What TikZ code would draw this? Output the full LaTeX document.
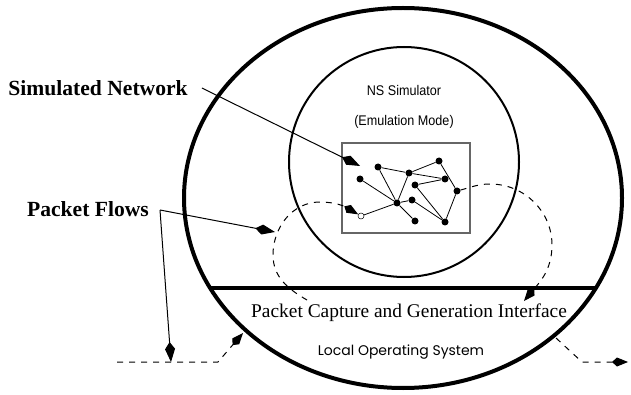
\documentclass[tikz,border=0pt]{standalone}
\usepackage{fontspec}
\setmainfont{Liberation Serif}
\newfontfamily\narrowsans[FakeStretch=0.9]{Liberation Sans}
\newfontfamily\gothicsans{Poppins}
\usetikzlibrary{arrows.meta}

\begin{document}
\begin{tikzpicture}[x=1pt,y=-1pt]
\useasboundingbox (0,0) rectangle (631,395);

\tikzstyle{dot}=[circle,fill=black,minimum size=7pt,inner sep=0pt]
\tikzstyle{hollow}=[circle,draw,fill=white,line width=0.5pt,minimum size=6pt,inner sep=0pt]
\tikzstyle{biglabel}=[font=\bfseries\fontsize{21.6}{24}\selectfont,inner sep=0pt]
\tikzstyle{pointer}=[line width=1pt,-{Kite[length=20pt,width=10pt,inset=7pt]}]
\tikzstyle{flow}=[line width=1pt,dash pattern=on 6pt off 6pt,-{Kite[length=16pt,width=9pt,inset=5pt]}]

%Local Operating System - outer ellipse
\draw[line width=4pt] (403,198) ellipse [x radius=219pt, y radius=190pt];
%Capture interface bar
\draw[line width=4pt] (211,288) -- (597,288);
%NS Simulator circle
\draw[line width=2pt] (404,162) circle [radius=115pt];
%Network box
\draw[black!60,line width=1.2pt] (342,143) rectangle (470,233);

%Texts
\node[font=\narrowsans\fontsize{14}{16}\selectfont] (ns) at (404,90) {NS Simulator};
\node[font=\narrowsans\fontsize{14}{16}\selectfont] (mode) at (404,122) {(Emulation Mode)};
\node[font=\fontsize{19.4}{22}\selectfont] (pcgi) at (409,313) {Packet Capture and Generation Interface};
\node[font=\gothicsans\fontsize{14}{16}\selectfont] (los) at (401,352) {Local Operating System};
\node[biglabel] (simnet) at (98,88) {Simulated Network};
\node[biglabel] (pflows) at (88,209) {Packet Flows};

%Network nodes
\foreach \id/\x/\y in {1/378/167, 2/409/173, 3/439/161, 4/360/179, 5/445/179, 6/415/185,
                       7/457/191, 8/397/203, 9/412/200, 10/415/221, 11/445/222}
\node[dot] (n\id) at (\x,\y) {};
\node[hollow] (src) at (361,216) {};

%Links
\foreach \from/\to in {1/2, 2/3, 2/5, 3/7, 6/5, 4/8, 1/8, 2/8, 8/9, 9/11, 6/11, 7/11, 8/10}
\draw[line width=0.8pt] (n\from) -- (n\to);
\draw[line width=0.8pt] (n8) -- (src);

%Flow end points
\coordinate (capL) at (307,300);
\coordinate (capR) at (524,301);
\coordinate (inL) at (117,362);
\coordinate (inK) at (218,362);
\coordinate (inT) at (243,333);
\coordinate (outS) at (556,338);
\coordinate (outK) at (582,362);
\coordinate (outT) at (628,362);
\coordinate (simtip) at (360,166);
\coordinate (fork) at (160,210);
\coordinate (pftip) at (275,232);
\coordinate (pfdown) at (171,362);

%Dashed flows
\draw[flow] (capL) to[out=150,in=-90] (273,255) to[out=90,in=180] (320,202) to[out=0,in=150] (src);
\draw[flow] (n7) to[out=15,in=180] (490,184) to[out=0,in=90] (552,245) to[out=-90,in=50] (capR);
\draw[flow] (inL) -- (inK) -- (inT);
\draw[flow] (outS) -- (outK) -- (outT);

%Label pointers
\coordinate (simstart) at ([xshift=14pt]simnet.east);
\draw[pointer] (simstart) -- (simtip);
\draw[pointer] (fork) -- (pftip);
\draw[pointer] (fork) -- (pfdown);

\end{tikzpicture}
\end{document}
